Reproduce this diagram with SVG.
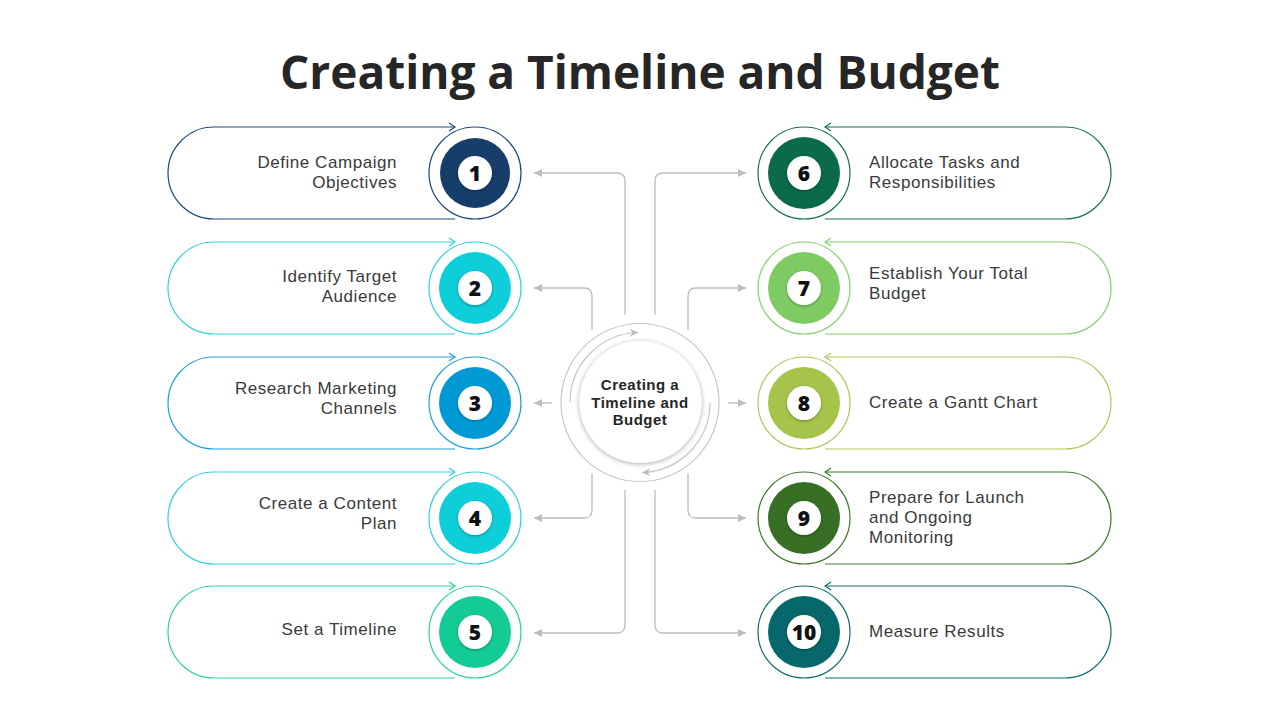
<svg xmlns="http://www.w3.org/2000/svg" width="1280" height="720" viewBox="0 0 1280 720">
<style>
.title{font-family:"Open Sans","Liberation Sans",sans-serif;font-weight:700;font-size:46px;fill:#262626}
.lbl{font-family:"Liberation Sans",Arial,sans-serif;font-size:17px;letter-spacing:0.55px;fill:#3a3a3a}
.lr{text-anchor:end}
.num{font-family:"Open Sans","Liberation Sans",sans-serif;font-weight:800;font-size:21px;fill:#111;text-anchor:middle}
.ctr{font-family:"Liberation Sans",Arial,sans-serif;font-weight:700;font-size:15px;letter-spacing:0.5px;fill:#262626;text-anchor:middle}
.pill{fill:none;stroke-width:1.2}
.ring{fill:#fff;stroke-width:1.2}
.conn{fill:none;stroke:#bdbdbd;stroke-width:1.3;marker-end:url(#ah)}
.arc{fill:none;stroke:#c4c4c4;stroke-width:1.2;marker-end:url(#ah2)}
</style>
<defs>
<marker id="ah" viewBox="0 0 10 10" refX="10" refY="5" markerUnits="userSpaceOnUse" markerWidth="9" markerHeight="8" orient="auto">
<path d="M0,0 L10,5 L0,10 z" fill="#bdbdbd"/>
</marker>
<marker id="ah2" viewBox="0 0 10 10" refX="10" refY="5" markerUnits="userSpaceOnUse" markerWidth="9" markerHeight="8" orient="auto">
<path d="M0,0 L10,5 L0,10 L3,5 z" fill="#bdbdbd"/>
</marker>
<filter id="sh" x="-30%" y="-30%" width="160%" height="160%">
<feDropShadow dx="0" dy="1" stdDeviation="2.5" flood-color="#000" flood-opacity="0.35"/>
</filter>
<filter id="sh2" x="-30%" y="-30%" width="160%" height="160%">
<feDropShadow dx="0" dy="1" stdDeviation="1.5" flood-color="#000" flood-opacity="0.35"/>
</filter>
</defs>
<rect width="1280" height="720" fill="#fff"/>
<text class="title" x="640" y="89" text-anchor="middle">Creating a Timeline and Budget</text>

<g id="connectors">
<path class="conn" d="M625,315 V181 Q625,173 617,173 H534"/>
<path class="conn" d="M592,330 V296 Q592,288 584,288 H534"/>
<path class="conn" d="M552,403 H534"/>
<path class="conn" d="M592,473 V510 Q592,518 584,518 H534"/>
<path class="conn" d="M625,490 V625 Q625,633 617,633 H534"/>
<path class="conn" d="M655,315 V181 Q655,173 663,173 H746"/>
<path class="conn" d="M688,330 V296 Q688,288 696,288 H746"/>
<path class="conn" d="M728,403 H746"/>
<path class="conn" d="M688,473 V510 Q688,518 696,518 H746"/>
<path class="conn" d="M655,490 V625 Q655,633 663,633 H746"/>
</g>

<g id="center">
<circle cx="640" cy="402.5" r="79" fill="#fff" stroke="#c8c8c8" stroke-width="1.2"/>
<path class="arc" d="M570,402 A70,70 0 0 1 638,332.5"/>
<path class="arc" d="M710,403 A70,70 0 0 1 642,472.5"/>
<circle cx="640.5" cy="402" r="61" fill="#fff" filter="url(#sh)"/>
<text class="ctr" x="640" y="390">Creating a<tspan x="640" dy="17.5">Timeline and</tspan><tspan x="640" dy="17.5">Budget</tspan></text>
</g>

<g id="node1">
<path class="pill" stroke="#1e4a7a" d="M455,127 H214 A46,46 0 0 0 214,219 H455"/>
<polyline class="pill" stroke="#1e4a7a" points="449,123 455,127 449,131"/>
<circle class="ring" cx="475" cy="173" r="46" stroke="#1e4a7a"/>
<circle cx="475" cy="173" r="35" fill="#173d6a"/>
<circle cx="475" cy="173" r="17" fill="#fff" filter="url(#sh2)"/>
<text class="num" x="475" y="180.5">1</text>
<text class="lbl lr" x="397" y="168">Define Campaign<tspan x="397" dy="19.5">Objectives</tspan></text>
</g>
<g id="node2">
<path class="pill" stroke="#2fd3dc" d="M455,242 H214 A46,46 0 0 0 214,334 H455"/>
<polyline class="pill" stroke="#2fd3dc" points="449,238 455,242 449,246"/>
<circle class="ring" cx="475" cy="288" r="46" stroke="#2fd3dc"/>
<circle cx="475" cy="288" r="36" fill="#0ecfd9"/>
<circle cx="475" cy="288" r="17" fill="#fff" filter="url(#sh2)"/>
<text class="num" x="475" y="295.5">2</text>
<text class="lbl lr" x="397" y="282">Identify Target<tspan x="397" dy="19.5">Audience</tspan></text>
</g>
<g id="node3">
<path class="pill" stroke="#1ea0db" d="M455,357 H214 A46,46 0 0 0 214,449 H455"/>
<polyline class="pill" stroke="#1ea0db" points="449,353 455,357 449,361"/>
<circle class="ring" cx="475" cy="403" r="46" stroke="#1ea0db"/>
<circle cx="475" cy="403" r="36" fill="#0099d6"/>
<circle cx="475" cy="403" r="17" fill="#fff" filter="url(#sh2)"/>
<text class="num" x="475" y="410.5">3</text>
<text class="lbl lr" x="397" y="394">Research Marketing<tspan x="397" dy="19.5">Channels</tspan></text>
</g>
<g id="node4">
<path class="pill" stroke="#2fd3dc" d="M455,472 H214 A46,46 0 0 0 214,564 H455"/>
<polyline class="pill" stroke="#2fd3dc" points="449,468 455,472 449,476"/>
<circle class="ring" cx="475" cy="518" r="46" stroke="#2fd3dc"/>
<circle cx="475" cy="518" r="36" fill="#0ecfd9"/>
<circle cx="475" cy="518" r="17" fill="#fff" filter="url(#sh2)"/>
<text class="num" x="475" y="525.5">4</text>
<text class="lbl lr" x="397" y="509">Create a Content<tspan x="397" dy="19.5">Plan</tspan></text>
</g>
<g id="node5">
<path class="pill" stroke="#2fd3a2" d="M455,586 H214 A46,46 0 0 0 214,678 H455"/>
<polyline class="pill" stroke="#2fd3a2" points="449,582 455,586 449,590"/>
<circle class="ring" cx="475" cy="632" r="46" stroke="#2fd3a2"/>
<circle cx="475" cy="632" r="36" fill="#13cc95"/>
<circle cx="475" cy="632" r="17" fill="#fff" filter="url(#sh2)"/>
<text class="num" x="475" y="639.5">5</text>
<text class="lbl lr" x="397" y="635">Set a Timeline</text>
</g>

<g id="node6">
<path class="pill" stroke="#17714f" d="M825,127 H1065 A46,46 0 0 1 1065,219 H825"/>
<polyline class="pill" stroke="#17714f" points="831,123 825,127 831,131"/>
<circle class="ring" cx="804" cy="173" r="46" stroke="#17714f"/>
<circle cx="804" cy="173" r="36" fill="#0a6a4b"/>
<circle cx="804" cy="173" r="17" fill="#fff" filter="url(#sh2)"/>
<text class="num" x="804" y="180.5">6</text>
<text class="lbl" x="869" y="168">Allocate Tasks and<tspan x="869" dy="19.5">Responsibilities</tspan></text>
</g>
<g id="node7">
<path class="pill" stroke="#85cf6e" d="M825,242 H1065 A46,46 0 0 1 1065,334 H825"/>
<polyline class="pill" stroke="#85cf6e" points="831,238 825,242 831,246"/>
<circle class="ring" cx="804" cy="288" r="46" stroke="#85cf6e"/>
<circle cx="804" cy="288" r="36" fill="#7fcb63"/>
<circle cx="804" cy="288" r="17" fill="#fff" filter="url(#sh2)"/>
<text class="num" x="804" y="295.5">7</text>
<text class="lbl" x="869" y="279">Establish Your Total<tspan x="869" dy="19.5">Budget</tspan></text>
</g>
<g id="node8">
<path class="pill" stroke="#adc75a" d="M825,357 H1065 A46,46 0 0 1 1065,449 H825"/>
<polyline class="pill" stroke="#adc75a" points="831,353 825,357 831,361"/>
<circle class="ring" cx="804" cy="403" r="46" stroke="#adc75a"/>
<circle cx="804" cy="403" r="36" fill="#a6c34a"/>
<circle cx="804" cy="403" r="17" fill="#fff" filter="url(#sh2)"/>
<text class="num" x="804" y="410.5">8</text>
<text class="lbl" x="869" y="408">Create a Gantt Chart</text>
</g>
<g id="node9">
<path class="pill" stroke="#3f7a2e" d="M825,472 H1065 A46,46 0 0 1 1065,564 H825"/>
<polyline class="pill" stroke="#3f7a2e" points="831,468 825,472 831,476"/>
<circle class="ring" cx="804" cy="518" r="46" stroke="#3f7a2e"/>
<circle cx="804" cy="518" r="36" fill="#376f24"/>
<circle cx="804" cy="518" r="17" fill="#fff" filter="url(#sh2)"/>
<text class="num" x="804" y="525.5">9</text>
<text class="lbl" x="869" y="503">Prepare for Launch<tspan x="869" dy="20">and Ongoing</tspan><tspan x="869" dy="20">Monitoring</tspan></text>
</g>
<g id="node10">
<path class="pill" stroke="#0e6f70" d="M825,586 H1065 A46,46 0 0 1 1065,678 H825"/>
<polyline class="pill" stroke="#0e6f70" points="831,582 825,586 831,590"/>
<circle class="ring" cx="804" cy="632" r="46" stroke="#0e6f70"/>
<circle cx="804" cy="632" r="36" fill="#06686a"/>
<circle cx="804" cy="632" r="17" fill="#fff" filter="url(#sh2)"/>
<text class="num" x="804" y="639.5">10</text>
<text class="lbl" x="869" y="637">Measure Results</text>
</g>
</svg>
